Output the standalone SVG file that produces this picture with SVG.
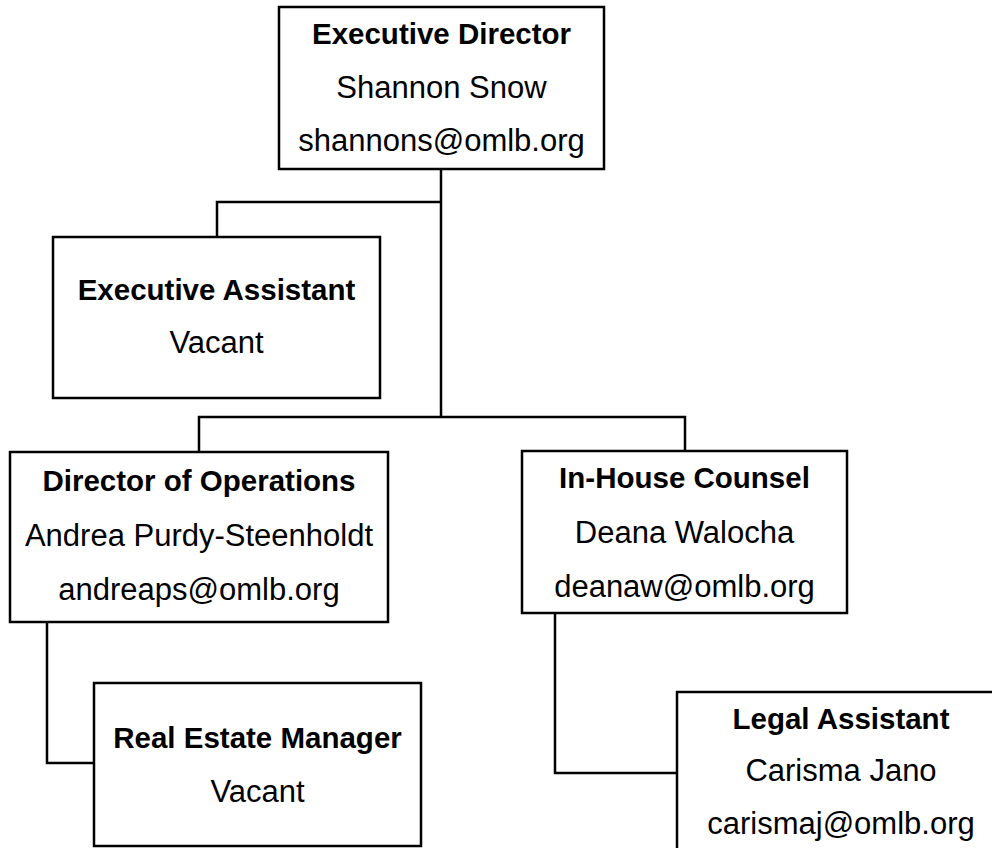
<svg xmlns="http://www.w3.org/2000/svg" width="992" height="848" viewBox="0 0 992 848">
<style>
.box{fill:#fff;stroke:#000;stroke-width:2.5}
.ln{fill:none;stroke:#000;stroke-width:2.5}
text{font-family:"Liberation Sans",Arial,sans-serif;fill:#000;text-anchor:middle}
.t{font-weight:bold;font-size:29.5px}
.r{font-size:31px}
</style>
<rect width="992" height="848" fill="#fff"/>
<g id="connectors">
<path class="ln" d="M441,169 V417"/>
<path class="ln" d="M441,202 H217 V237"/>
<path class="ln" d="M199,452 V417 H685 V451"/>
<path class="ln" d="M47,622 V763 H94"/>
<path class="ln" d="M555,613 V773 H677"/>
</g>
<g id="executive-director">
<rect class="box" x="279" y="7" width="325" height="162"/>
<text class="t" x="441.5" y="44">Executive Director</text>
<text class="r" x="441.5" y="98">Shannon Snow</text>
<text class="r" x="441.5" y="151">shannons@omlb.org</text>
</g>
<g id="executive-assistant">
<rect class="box" x="53" y="237" width="327" height="161"/>
<text class="t" x="216.5" y="300">Executive Assistant</text>
<text class="r" x="216.5" y="353">Vacant</text>
</g>
<g id="director-operations">
<rect class="box" x="10" y="452" width="378" height="170"/>
<text class="t" x="199" y="491">Director of Operations</text>
<text class="r" x="199" y="546">Andrea Purdy-Steenholdt</text>
<text class="r" x="199" y="600">andreaps@omlb.org</text>
</g>
<g id="in-house-counsel">
<rect class="box" x="522" y="451" width="325" height="162"/>
<text class="t" x="684.5" y="488">In-House Counsel</text>
<text class="r" x="684.5" y="543">Deana Walocha</text>
<text class="r" x="684.5" y="597">deanaw@omlb.org</text>
</g>
<g id="real-estate-manager">
<rect class="box" x="94" y="683" width="327" height="163"/>
<text class="t" x="257.5" y="748">Real Estate Manager</text>
<text class="r" x="257.5" y="802">Vacant</text>
</g>
<g id="legal-assistant">
<rect class="box" x="677" y="692" width="330" height="170"/>
<text class="t" x="841" y="729">Legal Assistant</text>
<text class="r" x="841" y="781">Carisma Jano</text>
<text class="r" x="841" y="834">carismaj@omlb.org</text>
</g>
</svg>
